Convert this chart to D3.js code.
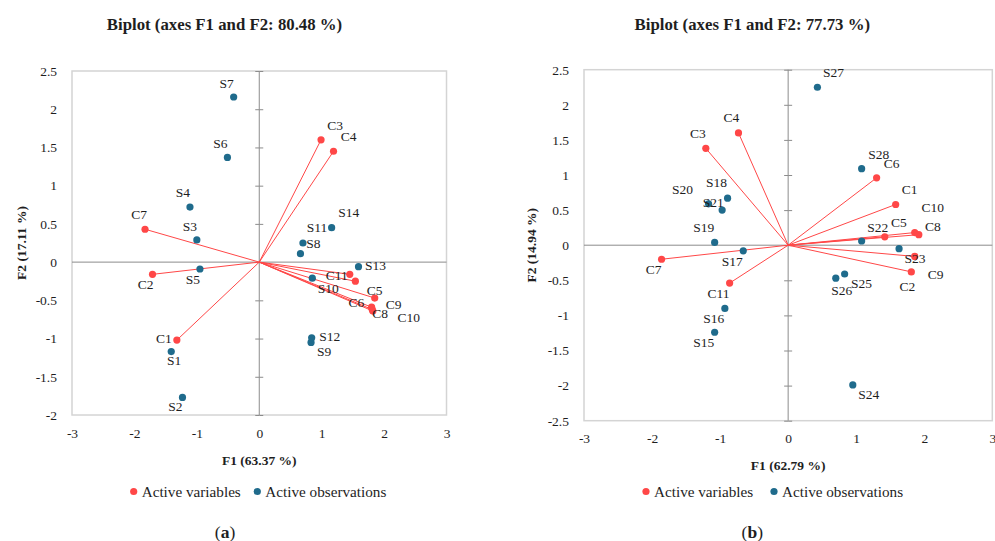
<!DOCTYPE html>
<html>
<head>
<meta charset="utf-8">
<script src="https://cdn.jsdelivr.net/npm/d3@7/dist/d3.min.js"></script>
<style>
  html, body { margin: 0; padding: 0; background: #ffffff; }
  svg { display: block; }
  text { font-family: "Liberation Serif", "Times New Roman", serif; fill: #1e1e1e; }
</style>
</head>
<body>
<svg id="chart" width="995" height="541"></svg>
<script>
// ---------------- DATA ----------------
// Panel (a)
const aTitle = "Biplot (axes F1 and F2: 80.48 %)";
const aXLabel = "F1 (63.37 %)";
const aYLabel = "F2 (17.11 %)";
const aVarNames = ["C1","C2","C3","C4","C5","C6","C7","C8","C9","C10","C11"];
const aVarF1 = [-1.32, -1.71, 0.99, 1.19, 1.85, 1.54, -1.83, 1.81, 1.80, 1.82, 1.45];
const aVarF2 = [-1.02, -0.16, 1.60, 1.45, -0.47, -0.25, 0.43, -0.62, -0.59, -0.64, -0.16];
const aObsNames = ["S1","S2","S3","S4","S5","S6","S7","S8","S9","S10","S11","S12","S13","S14"];
const aObsF1 = [-1.41, -1.23, -1.00, -1.11, -0.95, -0.51, -0.41, 0.66, 0.83, 0.85, 0.70, 0.84, 1.59, 1.16];
const aObsF2 = [-1.17, -1.77, 0.29, 0.72, -0.09, 1.37, 2.16, 0.11, -1.05, -0.21, 0.25, -0.99, -0.06, 0.45];
const aXTicks = [-3, -2, -1, 0, 1, 2, 3];
const aYTicks = [-2, -1.5, -1, -0.5, 0, 0.5, 1, 1.5, 2, 2.5];

// Panel (b)
const bTitle = "Biplot (axes F1 and F2: 77.73 %)";
const bXLabel = "F1 (62.79 %)";
const bYLabel = "F2 (14.94 %)";
const bVarNames = ["C1","C2","C3","C4","C5","C6","C7","C8","C9","C10","C11"];
const bVarF1 = [1.58, 1.81, -1.21, -0.73, 1.42, 1.30, -1.86, 1.92, 1.86, 1.86, -0.86];
const bVarF2 = [0.58, -0.38, 1.38, 1.60, 0.12, 0.96, -0.20, 0.15, -0.16, 0.18, -0.54];
const bObsNames = ["S15","S16","S17","S18","S19","S20","S21","S22","S23","S24","S25","S26","S27","S28"];
const bObsF1 = [-1.08, -0.93, -0.66, -0.89, -1.08, -1.17, -0.97, 1.08, 1.63, 0.95, 0.83, 0.70, 0.43, 1.08];
const bObsF2 = [-1.24, -0.90, -0.08, 0.67, 0.04, 0.59, 0.50, 0.06, -0.05, -1.99, -0.41, -0.47, 2.25, 1.09];
const bXTicks = [-3, -2, -1, 0, 1, 2, 3];
const bYTicks = [-2.5, -2, -1.5, -1, -0.5, 0, 0.5, 1, 1.5, 2, 2.5];

const legendLabels = ["Active variables", "Active observations"];
const captions = ["a", "b"];

// ---------------- LAYOUT / STYLE ----------------
const RED = "#ff4747";
const BLUE = "#1f6b8c";

// label offsets (pixels, text centre relative to marker)
const aLabelOffset = {
  C1:[-13,-2], C2:[-7,10], C3:[14,-15], C4:[15,-15], C5:[0,-8], C6:[1,21], C7:[-6,-15],
  C8:[8,4], C9:[22,-3], C10:[36,6], C11:[-13,1],
  S1:[3,9], S2:[-7,9], S3:[-7,-14], S4:[-7,-15], S5:[-7,10], S6:[-7,-14], S7:[-7,-14],
  S8:[13,-10], S9:[13,9], S10:[16,10], S11:[14,-16], S12:[18,-2], S13:[17,-1], S14:[17,-15]
};
const bLabelOffset = {
  C1:[14,-15], C2:[-4,14], C3:[-8,-15], C4:[-7,-16], C5:[14,-15], C6:[15,-15], C7:[-8,10],
  C8:[14,-8], C9:[21,18], C10:[18,-25], C11:[-11,10],
  S15:[-11,10], S16:[-11,10], S17:[-11,10], S18:[-11,-16], S19:[-11,-15], S20:[-26,-15],
  S21:[-9,-8], S22:[16,-14], S23:[16,10], S24:[16,9], S25:[17,9], S26:[6,12], S27:[16,-15], S28:[17,-14]
};

const panels = [
  { title: aTitle, xLabel: aXLabel, yLabel: aYLabel,
    varNames: aVarNames, varF1: aVarF1, varF2: aVarF2,
    obsNames: aObsNames, obsF1: aObsF1, obsF2: aObsF2,
    xTicks: aXTicks, yTicks: aYTicks, caption: captions[0], offsets: aLabelOffset,
    xRange: [72, 446.5], yRange: [415, 71], yDomain: [-2, 2.5],
    titleX: 224.5, titleY: 24, xLabelY: 460, yLabelX: 21, legendX: [133.7, 257.3], legendY: 491.5,
    capX: 225, capY: 532 },
  { title: bTitle, xLabel: bXLabel, yLabel: bYLabel,
    varNames: bVarNames, varF1: bVarF1, varF2: bVarF2,
    obsNames: bObsNames, obsF1: bObsF1, obsF2: bObsF2,
    xTicks: bXTicks, yTicks: bYTicks, caption: captions[1], offsets: bLabelOffset,
    xRange: [584, 992.3], yRange: [420.7, 69.7], yDomain: [-2.5, 2.5],
    titleX: 752.3, titleY: 24, xLabelY: 465.5, yLabelX: 531.5, legendX: [646, 774], legendY: 491.5,
    capX: 752.3, capY: 532 }
];

const svg = d3.select("#chart");
const fmt = d => String(d);

panels.forEach(p => {
  const g = svg.append("g");
  const x = d3.scaleLinear().domain([-3, 3]).range(p.xRange);
  const y = d3.scaleLinear().domain(p.yDomain).range(p.yRange);
  const x0 = x(0), y0 = y(0);

  // border
  g.append("rect")
    .attr("x", p.xRange[0]).attr("y", p.yRange[1])
    .attr("width", p.xRange[1] - p.xRange[0]).attr("height", p.yRange[0] - p.yRange[1])
    .attr("fill", "none").attr("stroke", "#d4d4d4").attr("stroke-width", 1.5);

  // zero axes
  g.append("line").attr("x1", p.xRange[0]).attr("x2", p.xRange[1]).attr("y1", y0).attr("y2", y0)
    .attr("stroke", "#8c8c8c").attr("stroke-width", 1);
  g.append("line").attr("x1", x0).attr("x2", x0).attr("y1", p.yRange[0]).attr("y2", p.yRange[1])
    .attr("stroke", "#8c8c8c").attr("stroke-width", 1);

  // ticks on the vertical zero axis (both sides)
  const tickL = d3.axisLeft(y).tickValues(p.yTicks).tickSize(4).tickFormat("");
  const tickR = d3.axisRight(y).tickValues(p.yTicks).tickSize(4).tickFormat("");
  [tickL, tickR].forEach(ax => {
    const t = g.append("g").attr("transform", `translate(${x0},0)`).call(ax);
    t.select(".domain").remove();
    t.selectAll("line").attr("stroke", "#8c8c8c");
  });

  // tick labels (outer)
  const yAx = g.append("g").attr("transform", `translate(${p.xRange[0]},0)`)
    .call(d3.axisLeft(y).tickValues(p.yTicks).tickFormat(fmt).tickSize(0).tickPadding(15));
  yAx.select(".domain").remove();
  yAx.selectAll("text").attr("font-size", 13.5).attr("font-family", "Liberation Serif").attr("fill", "#262626");

  const xAx = g.append("g").attr("transform", `translate(0,${p.yRange[0]})`)
    .call(d3.axisBottom(x).tickValues(p.xTicks).tickFormat(fmt).tickSize(0).tickPadding(13));
  xAx.select(".domain").remove();
  xAx.selectAll("text").attr("font-size", 13.5).attr("font-family", "Liberation Serif").attr("fill", "#262626");

  // vectors
  const vars = p.varNames.map((n, i) => ({ name: n, f1: p.varF1[i], f2: p.varF2[i] }));
  const obs = p.obsNames.map((n, i) => ({ name: n, f1: p.obsF1[i], f2: p.obsF2[i] }));

  g.selectAll(".vec").data(vars).enter().append("line")
    .attr("x1", x0).attr("y1", y0)
    .attr("x2", d => x(d.f1)).attr("y2", d => y(d.f2))
    .attr("stroke", RED).attr("stroke-width", 1);

  g.selectAll(".vp").data(vars).enter().append("circle")
    .attr("cx", d => x(d.f1)).attr("cy", d => y(d.f2)).attr("r", 3.6).attr("fill", RED);
  g.selectAll(".op").data(obs).enter().append("circle")
    .attr("cx", d => x(d.f1)).attr("cy", d => y(d.f2)).attr("r", 3.6).attr("fill", BLUE);

  // point labels
  g.selectAll(".lab").data(vars.concat(obs)).enter().append("text")
    .attr("x", d => x(d.f1) + (p.offsets[d.name] || [0, 0])[0])
    .attr("y", d => y(d.f2) + (p.offsets[d.name] || [0, 0])[1])
    .attr("dy", "0.35em").attr("text-anchor", "middle")
    .attr("font-size", 13.5).attr("fill", "#222")
    .text(d => d.name);

  // titles
  g.append("text").attr("x", p.titleX).attr("y", p.titleY).attr("dy", "0.35em")
    .attr("text-anchor", "middle").attr("font-weight", "bold").attr("font-size", 16.8)
    .text(p.title);
  g.append("text").attr("x", x0).attr("y", p.xLabelY).attr("dy", "0.35em")
    .attr("text-anchor", "middle").attr("font-weight", "bold").attr("font-size", 13.5)
    .text(p.xLabel);
  g.append("text").attr("transform", `translate(${p.yLabelX},${(p.yRange[0] + p.yRange[1]) / 2}) rotate(-90)`)
    .attr("dy", "0.35em").attr("text-anchor", "middle").attr("font-weight", "bold").attr("font-size", 13.5)
    .text(p.yLabel);

  // legend
  const colors = [RED, BLUE];
  legendLabels.forEach((lab, i) => {
    g.append("circle").attr("cx", p.legendX[i]).attr("cy", p.legendY).attr("r", 3.6).attr("fill", colors[i]);
    g.append("text").attr("x", p.legendX[i] + 8).attr("y", p.legendY).attr("dy", "0.35em")
      .attr("font-size", 15.2).text(lab);
  });

  // caption
  const cap = g.append("text").attr("x", p.capX).attr("y", p.capY).attr("dy", "0.35em")
    .attr("text-anchor", "middle").attr("font-size", 17.5);
  cap.append("tspan").text("(");
  cap.append("tspan").attr("font-weight", "bold").text(p.caption);
  cap.append("tspan").text(")");
});
</script>
</body>
</html>
